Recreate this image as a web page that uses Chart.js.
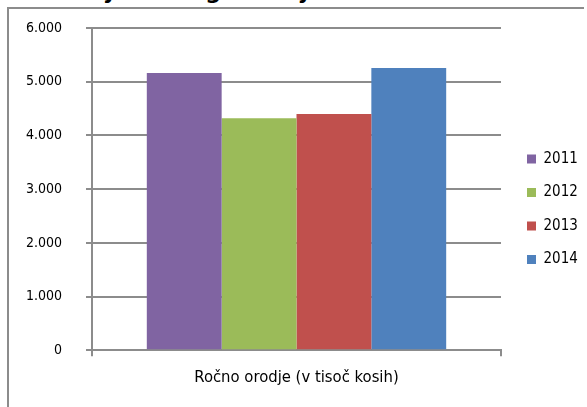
<!DOCTYPE html>
<html>
<head>
<meta charset="utf-8">
<script src="https://cdn.jsdelivr.net/npm/chart.js@4.4.0/dist/chart.umd.min.js"></script>
<style>
  html, body { margin: 0; padding: 0; background: #fff; }
  body { width: 587px; height: 407px; position: relative; overflow: hidden; }
  .naslov {
    position: absolute; left: 33px; top: -19px;
    font: bold 22px/22px 'DejaVu Sans', sans-serif;
    white-space: nowrap; color: #000;
  }
  #graf { position: absolute; left: 0; top: 0; }
</style>
</head>
<body>
<div class="naslov">Prodaja ročnega orodja</div>
<canvas id="graf" width="587" height="407"></canvas>
<script>
// podatki
const kategorije = ['Ročno orodje (v tisoč kosih)'];
const leta = ['2011', '2012', '2013', '2014'];
const prodaja = [5160, 4320, 4400, 5255];
const barve = ['#8064A2', '#9BBB59', '#C0504D', '#4F81BD'];
const yOznake = ['0', '1.000', '2.000', '3.000', '4.000', '5.000', '6.000'];

const sivaCrta = '#8c8c8c';
Chart.defaults.font.family = "'DejaVu Sans Condensed', 'DejaVu Sans', sans-serif";
Chart.defaults.color = '#000';

// okvir grafa (levi in zgornji rob)
const okvir = {
    id: 'okvir',
    beforeDraw(chart) {
        const c = chart.ctx;
        c.save();
        c.strokeStyle = sivaCrta;
        c.lineWidth = 2;
        c.beginPath();
        c.moveTo(8, chart.height);
        c.lineTo(8, 8);
        c.lineTo(chart.width - 3, 8);
        c.stroke();
        c.restore();
    }
};

const ctx = document.getElementById('graf').getContext('2d');
const graf = new Chart(ctx, {
    type: 'bar',
    data: {
        labels: kategorije,
        datasets: leta.map((leto, i) => ({
            label: leto,
            data: [prodaja[i]],
            backgroundColor: barve[i],
            borderWidth: 0,
            categoryPercentage: 0.732,
            barPercentage: 1
        }))
    },
    plugins: [okvir],
    options: {
        responsive: false,
        animation: false,
        layout: {
            padding: { top: 28, bottom: 16.5, left: 0, right: 0 }
        },
        plugins: {
            tooltip: { enabled: false },
            legend: {
                position: 'right',
                align: 'center',
                maxWidth: 78.5,
                labels: {
                    boxWidth: 9,
                    boxHeight: 9,
                    padding: 18.5,
                    font: { size: 15 }
                }
            }
        },
        scales: {
            x: {
                offset: true,
                grid: {
                    drawOnChartArea: false,
                    offset: true,
                    tickLength: 6,
                    color: sivaCrta,
                    lineWidth: 2
                },
                border: { color: sivaCrta, width: 2 },
                ticks: { padding: 12, font: { size: 16.5 } },
                afterFit: s => { s.height = 40.2; }
            },
            y: {
                min: 0,
                max: 6000,
                ticks: {
                    stepSize: 1000,
                    padding: 24,
                    font: { size: 14 },
                    callback: (v, i) => yOznake[i]
                },
                grid: { color: sivaCrta, lineWidth: 2, tickLength: 6 },
                border: { color: sivaCrta, width: 2 },
                afterFit: s => {
                    s.width = 92;
                    s.paddingTop = 0;
                    s.paddingBottom = 0;
                }
            },
            // prazen prostor med risbo in legendo
            razmik: {
                type: 'linear',
                position: 'right',
                grid: { display: false },
                ticks: { display: false },
                border: { display: false },
                afterFit: s => { s.width = 7.5; }
            }
        }
    }
});
</script>
</body>
</html>
